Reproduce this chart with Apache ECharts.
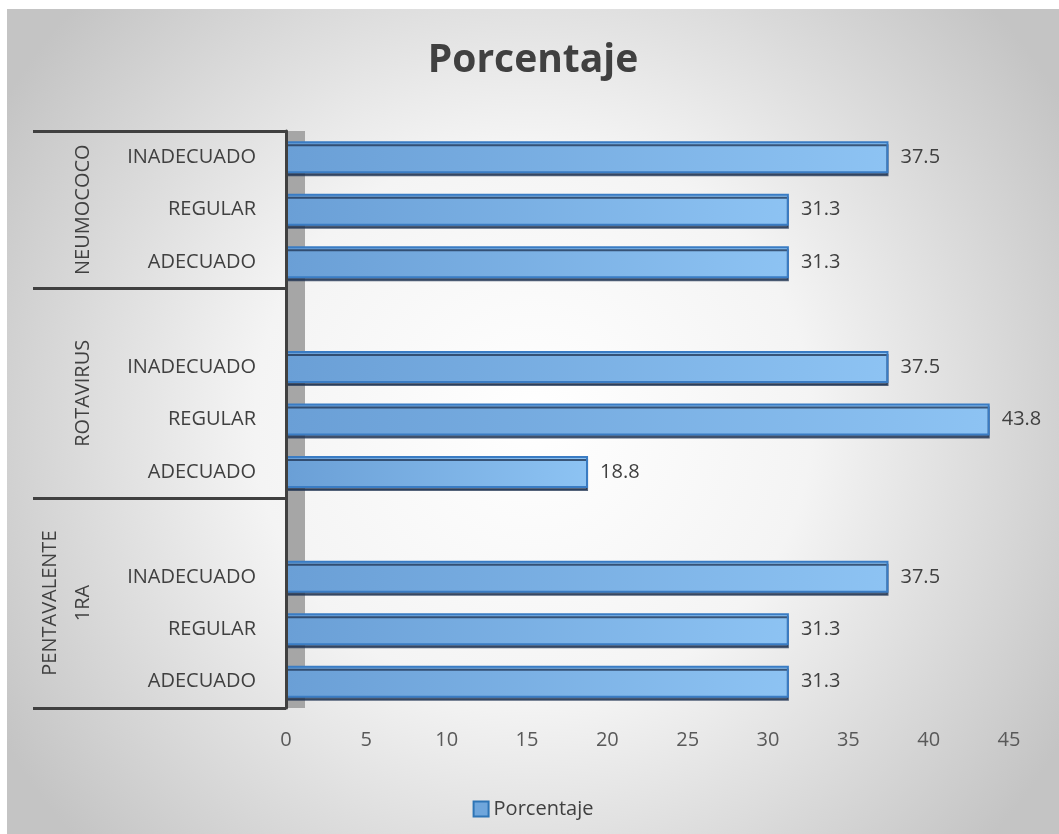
<!DOCTYPE html>
<html>
<head>
<meta charset="utf-8">
<script src="https://cdn.jsdelivr.net/npm/echarts@6/dist/echarts.min.js"></script>
<style>
  html, body { margin: 0; padding: 0; background: #ffffff; }
  #chart { position: absolute; left: 7px; top: 9px; width: 1052px; height: 825px; }
</style>
</head>
<body>
<div id="chart"></div>
<script>
// filas de abajo hacia arriba, '' = hueco entre grupos
var categories = ['ADECUADO', 'REGULAR', 'INADECUADO', '',
                  'ADECUADO', 'REGULAR', 'INADECUADO', '',
                  'ADECUADO', 'REGULAR', 'INADECUADO'];
var porcentaje = [31.3, 31.3, 37.5, null,
                  18.8, 43.8, 37.5, null,
                  31.3, 31.3, 37.5];
var groupNames = ['PENTAVALENTE\n1RA', 'ROTAVIRUS', 'NEUMOCOCO'];
var groupBreaks = [0, 4, 8, 11];
var xTicks = [0, 5, 10, 15, 20, 25, 30, 35, 40, 45];

var groupMids = [];
for (var i = 0; i < groupNames.length; i++) {
    groupMids.push((groupBreaks[i] + groupBreaks[i + 1]) / 2);
}

var myChart = echarts.init(document.getElementById('chart'));

var txt = '#404040';
var font = '"Open Sans", "Noto Sans", sans-serif';

option = {
    backgroundColor: {
        type: 'radial', x: 0.5, y: 0.5, r: 0.75,
        colorStops: [
            { offset: 0, color: '#ffffff' },
            { offset: 0.45, color: '#f4f4f4' },
            { offset: 1, color: '#c4c4c4' }
        ]
    },
    textStyle: { fontFamily: font },
    title: {
        text: 'Porcentaje',
        left: 'center',
        top: 27,
        textStyle: { fontSize: 39, fontWeight: 'bold', color: txt, fontFamily: font }
    },
    legend: {
        bottom: 10,
        left: 'center',
        itemWidth: 15,
        itemHeight: 15,
        itemGap: 5,
        textStyle: { fontSize: 20, color: txt },
        data: [{ name: 'Porcentaje', icon: 'rect',
                 itemStyle: { color: '#6fa6dc', borderColor: '#2e75b6', borderWidth: 2 } }]
    },
    grid: { left: 279, right: 50, top: 122, bottom: 126, outerBoundsMode: 'none' },
    xAxis: {
        type: 'value',
        min: 0, max: 45, interval: 5,
        axisLine: { show: false },
        axisTick: { show: false },
        splitLine: { show: false },
        axisLabel: {
            fontSize: 20, color: '#595959', margin: 22,
            formatter: function (v) { return xTicks.indexOf(v) >= 0 ? String(v) : ''; }
        }
    },
    yAxis: [
        {
            type: 'category',
            position: 'left',
            data: categories,
            z: 3,
            axisLine: { lineStyle: { color: '#404040', width: 3 } },
            axisTick: { show: false },
            axisLabel: { fontSize: 20, color: txt, margin: 30 }
        },
        {
            type: 'value',
            position: 'left',
            min: 0, max: 11,
            z: 2,
            axisLine: { show: false },
            splitLine: { show: false },
            axisTick: {
                show: true, inside: false, length: 253,
                customValues: groupBreaks,
                lineStyle: { color: '#404040', width: 3 }
            },
            axisLabel: {
                show: true, rotate: 90, margin: 186,
                fontSize: 20, color: txt, lineHeight: 33,
                customValues: groupMids,
                formatter: function (v) {
                    var k = groupMids.indexOf(v);
                    return k >= 0 ? groupNames[k] : '';
                }
            }
        },
        {
            type: 'value',
            position: 'left',
            min: 0, max: 11,
            z: 1,
            offset: -10,
            axisLine: { show: true, lineStyle: { color: '#a6a6a6', width: 18, cap: 'butt' } },
            axisTick: { show: false },
            axisLabel: { show: false },
            splitLine: { show: false }
        }
    ],
    series: [
        {
            name: 'Porcentaje',
            type: 'bar',
            yAxisIndex: 0,
            barWidth: 32,
            data: porcentaje,
            itemStyle: {
                color: {
                    type: 'linear', x: 0, y: 0, x2: 1, y2: 0,
                    colorStops: [
                        { offset: 0, color: '#6a9fd6' },
                        { offset: 1, color: '#8dc3f3' }
                    ]
                },
                borderColor: '#3a7cc4',
                borderWidth: 2,
                shadowColor: 'rgba(30,50,80,0.75)',
                shadowOffsetY: 3,
                shadowOffsetX: 0,
                shadowBlur: 0
            },
            label: {
                show: true,
                position: 'right',
                distance: 12,
                fontSize: 20,
                color: txt,
                formatter: function (p) { return p.value.toFixed(1); }
            }
        }
    ]
};

myChart.setOption(option);
</script>
</body>
</html>
